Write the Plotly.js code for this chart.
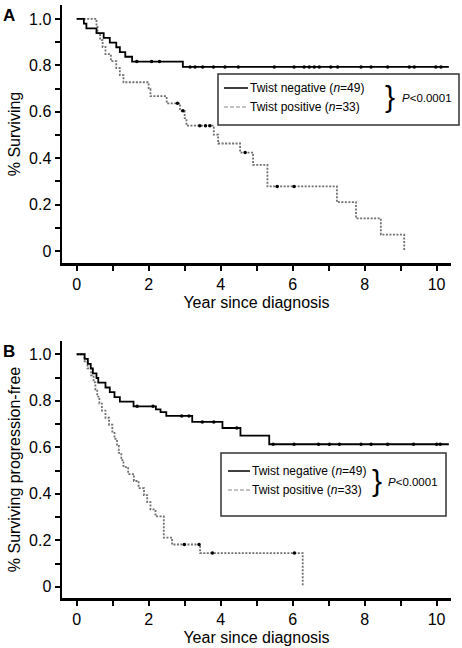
<!DOCTYPE html>
<html>
<head>
<meta charset="utf-8">
<script src="https://cdn.plot.ly/plotly-3.0.1.min.js"></script>
<style>html,body{margin:0;padding:0;background:#fff;}#chart{width:462px;height:648px;}</style>
</head>
<body>
<div id="chart"></div>
<script>
// ---------- Data ----------
// Panel A: overall survival
const aNegTimes = [0.2, 0.27, 0.55, 0.75, 0.92, 1.1, 1.2, 1.35, 1.54, 2.95];
const aNegSurv  = [0.980, 0.959, 0.939, 0.918, 0.898, 0.878, 0.857, 0.837, 0.816, 0.793];
const aNegCensored = [1.67, 2.08, 2.3, 3.15, 3.29, 3.5, 3.8, 4.12, 4.49, 5.49, 6.04, 6.32, 6.46, 6.6, 6.74, 7.06, 7.25, 7.9, 8.18, 8.64, 9.24, 9.38, 9.98, 10.12];
const aNegEnd = 10.34;

const aPosTimes = [0.55, 0.58, 0.65, 0.72, 0.8, 0.95, 1.1, 1.2, 1.3, 2.0, 2.05, 2.5, 2.87, 3.0, 3.05, 3.81, 3.93, 4.54, 4.9, 5.3, 7.23, 7.76, 8.45, 9.1];
const aPosSurv  = [0.970, 0.939, 0.909, 0.879, 0.848, 0.818, 0.788, 0.758, 0.727, 0.697, 0.667, 0.636, 0.604, 0.572, 0.540, 0.501, 0.463, 0.424, 0.371, 0.278, 0.210, 0.140, 0.070, 0];
const aPosCensored = [2.8, 2.95, 3.42, 3.58, 3.7, 4.68, 5.57, 6.04];

// Panel B: progression-free survival
const bNegTimes = [0.22, 0.31, 0.39, 0.45, 0.55, 0.6, 0.8, 0.92, 1.05, 1.2, 1.58, 2.2, 2.33, 2.49, 3.21, 4.05, 4.55, 5.35];
const bNegSurv  = [0.980, 0.959, 0.939, 0.918, 0.898, 0.878, 0.857, 0.837, 0.816, 0.796, 0.776, 0.763, 0.751, 0.735, 0.709, 0.683, 0.650, 0.613];
const bNegCensored = [1.68, 2.12, 2.92, 3.12, 3.49, 3.81, 4.45, 5.46, 6.04, 6.72, 7.02, 7.3, 7.9, 8.18, 8.64, 9.36, 10.0, 10.1];
const bNegEnd = 10.34;

const bPosTimes = [0.22, 0.3, 0.4, 0.47, 0.52, 0.57, 0.63, 0.7, 0.8, 0.9, 0.99, 1.05, 1.12, 1.17, 1.24, 1.3, 1.43, 1.59, 1.72, 1.87, 1.96, 2.05, 2.19, 2.42, 2.65, 3.43, 6.28];
const bPosSurv  = [0.970, 0.939, 0.909, 0.879, 0.848, 0.818, 0.788, 0.758, 0.727, 0.697, 0.667, 0.636, 0.606, 0.576, 0.545, 0.515, 0.485, 0.455, 0.424, 0.394, 0.364, 0.333, 0.303, 0.212, 0.182, 0.145, 0];
const bPosCensored = [2.99, 3.4, 3.77, 6.05];

// Axis ticks and labels
const xTickVals = [0, 2, 4, 6, 8, 10];
const xTickText = ['0', '2', '4', '6', '8', '10'];
const yTickVals = [0, 0.2, 0.4, 0.6, 0.8, 1.0];
const yTickText = ['0', '0.2', '0.4', '0.6', '0.8', '1.0'];

const negLabel = 'Twist negative (<i>n</i>=49)';
const posLabel = 'Twist positive (<i>n</i>=33)';
const pLabel = '<i>P</i><0.0001';
const yTitleA = '% Surviving';
const yTitleB = '% Surviving progression-free';
const xTitle = 'Year since diagnosis';

// ---------- Helpers ----------
function stepLine(times, surv, end) {
  const x = [0].concat(times);
  const y = [1].concat(surv);
  if (end !== undefined) { x.push(end); y.push(surv[surv.length - 1]); }
  return {x, y};
}
function survAt(times, surv, t) {
  let s = 1;
  for (let i = 0; i < times.length; i++) { if (times[i] <= t) s = surv[i]; }
  return s;
}
const W = 462, H = 648;
const px = v => v / W;
const py = v => 1 - v / H;

const FONT = 'Liberation Sans, Arial, Helvetica, sans-serif';
const POS_COLOR = '#707070';

function curveTraces(times, surv, end, cens, xa, ya, positive) {
  const s = stepLine(times, surv, end);
  return [
    {x: s.x, y: s.y, xaxis: xa, yaxis: ya, type: 'scatter', mode: 'lines',
     line: {shape: 'hv', color: positive ? POS_COLOR : '#000', width: positive ? 1.8 : 1.8, dash: positive ? '2px,1.5px' : 'solid'},
     showlegend: false, hoverinfo: 'skip'},
    {x: cens, y: cens.map(t => survAt(times, surv, t)), xaxis: xa, yaxis: ya, type: 'scatter', mode: 'markers',
     marker: {symbol: 'circle', size: 3.5, color: '#000'}, showlegend: false, hoverinfo: 'skip'}
  ];
}

const traces = []
  .concat(curveTraces(aPosTimes, aPosSurv, undefined, aPosCensored, 'x', 'y', true))
  .concat(curveTraces(aNegTimes, aNegSurv, aNegEnd, aNegCensored, 'x', 'y', false))
  .concat(curveTraces(bPosTimes, bPosSurv, undefined, bPosCensored, 'x2', 'y2', true))
  .concat(curveTraces(bNegTimes, bNegSurv, bNegEnd, bNegCensored, 'x2', 'y2', false));

function xAxis(anchor) {
  return {
    anchor: anchor, domain: [px(62), px(451)], range: [-0.408, 10.4],
    showline: true, linecolor: '#000', linewidth: 2.5, mirror: false,
    showgrid: false, zeroline: false,
    ticks: 'outside', ticklen: 5, tickwidth: 2, tickcolor: '#000',
    tickvals: xTickVals, ticktext: xTickText,
    tickfont: {family: FONT, size: 16, color: '#000'},
    minor: {tickvals: [1, 3, 5, 7, 9], ticks: 'outside', ticklen: 5, tickwidth: 2, tickcolor: '#000'},
    title: {text: xTitle, font: {family: FONT, size: 16, color: '#000'}, standoff: 5},
    fixedrange: true
  };
}
function yAxis(anchor, top, bottom, range, title) {
  return {
    anchor: anchor, domain: [py(bottom), py(top)], range: range,
    showline: true, linecolor: '#000', linewidth: 2.5,
    showgrid: false, zeroline: false,
    ticks: 'outside', ticklen: 5, tickwidth: 2, tickcolor: '#000',
    tickvals: yTickVals, ticktext: yTickText,
    tickfont: {family: FONT, size: 16, color: '#000'},
    minor: {tickvals: [0.1, 0.3, 0.5, 0.7, 0.9], ticks: 'outside', ticklen: 5, tickwidth: 2, tickcolor: '#000'},
    title: {text: title, font: {family: FONT, size: 16, color: '#000'}, standoff: 5},
    fixedrange: true
  };
}

function legendBox(x0, y0, x1, y1, row1y, row2y, sx0, sx1, tx, braceX, braceY, pX, pY) {
  const shapes = [
    {type: 'rect', xref: 'paper', yref: 'paper', x0: px(x0), x1: px(x1), y0: py(y1), y1: py(y0),
     line: {color: '#333', width: 1.5}, fillcolor: 'rgba(255,255,255,1)'},
    {type: 'line', xref: 'paper', yref: 'paper', x0: px(sx0), x1: px(sx1), y0: py(row1y), y1: py(row1y),
     line: {color: '#000', width: 1.5}},
    {type: 'line', xref: 'paper', yref: 'paper', x0: px(sx0), x1: px(sx1), y0: py(row2y), y1: py(row2y),
     line: {color: '#888', width: 1.2, dash: '4px,2px'}}
  ];
  const anns = [
    {xref: 'paper', yref: 'paper', x: px(tx), y: py(row1y), xanchor: 'left', yanchor: 'middle', showarrow: false,
     text: negLabel, font: {family: FONT, size: 12, color: '#000'}},
    {xref: 'paper', yref: 'paper', x: px(tx), y: py(row2y), xanchor: 'left', yanchor: 'middle', showarrow: false,
     text: posLabel, font: {family: FONT, size: 12, color: '#000'}},
    {xref: 'paper', yref: 'paper', x: px(braceX), y: py(braceY), xanchor: 'center', yanchor: 'middle', showarrow: false,
     text: '}', font: {family: FONT, size: 30, color: '#000'}},
    {xref: 'paper', yref: 'paper', x: px(pX), y: py(pY), xanchor: 'left', yanchor: 'middle', showarrow: false,
     text: pLabel, font: {family: FONT, size: 11.5, color: '#000'}}
  ];
  return {shapes, anns};
}

const legA = legendBox(218, 74, 459, 125, 88, 107, 224, 248, 248, 390, 96, 400, 98);
const legB = legendBox(221, 453, 446, 516, 471, 490, 228, 250, 250, 377, 480, 386, 482);

const layout = {
  width: W, height: H, autosize: false,
  margin: {l: 0, r: 0, t: 0, b: 0},
  paper_bgcolor: '#fff', plot_bgcolor: '#fff',
  showlegend: false,
  font: {family: FONT, color: '#000'},
  xaxis: xAxis('y'),
  yaxis: yAxis('x', 5, 263, [-0.052, 1.060], yTitleA),
  xaxis2: xAxis('y2'),
  yaxis2: yAxis('x2', 341, 598, [-0.048, 1.057], yTitleB),
  shapes: legA.shapes.concat(legB.shapes),
  annotations: [
    {xref: 'paper', yref: 'paper', x: px(9), y: py(15.5), xanchor: 'center', yanchor: 'middle', showarrow: false,
     text: '<b>A</b>', font: {family: FONT, size: 17, color: '#000'}},
    {xref: 'paper', yref: 'paper', x: px(9), y: py(351), xanchor: 'center', yanchor: 'middle', showarrow: false,
     text: '<b>B</b>', font: {family: FONT, size: 17, color: '#000'}}
  ].concat(legA.anns, legB.anns)
};

Plotly.newPlot('chart', traces, layout, {staticPlot: true, displayModeBar: false});
</script>
</body>
</html>
